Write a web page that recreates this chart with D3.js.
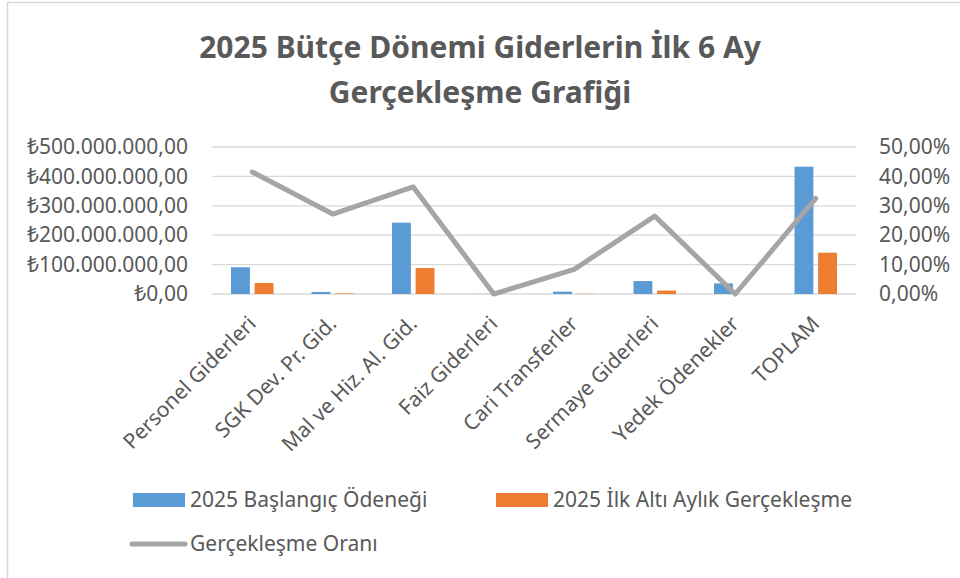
<!DOCTYPE html>
<html>
<head>
<meta charset="utf-8">
<script src="https://cdn.jsdelivr.net/npm/d3@7"></script>
<style>
  body { margin: 0; background: #fff; }
  text { font-family: "Noto Sans", "Open Sans", sans-serif; fill: #595959; }
</style>
</head>
<body>
<svg id="chart" width="960" height="578"></svg>
<script>
var categories = ['Personel Giderleri', 'SGK Dev. Pr. Gid.', 'Mal ve Hiz. Al. Gid.', 'Faiz Giderleri',
    'Cari Transferler', 'Sermaye Giderleri', 'Yedek Ödenekler', 'TOPLAM'];
var baslangic = [91e6, 7e6, 242.5e6, 0.4e6, 8e6, 44e6, 36e6, 433e6];
var gerceklesme = [37.5e6, 1.9e6, 88.4e6, 0, 0.7e6, 11.6e6, 0, 140.5e6];
var oran = [0.415, 0.272, 0.364, 0, 0.084, 0.265, 0, 0.325];
var seriesNames = ['2025 Başlangıç Ödeneği', '2025 İlk Altı Aylık Gerçekleşme', 'Gerçekleşme Oranı'];
var leftTicks = [0, 1e8, 2e8, 3e8, 4e8, 5e8];
var rightTicks = [0, 0.1, 0.2, 0.3, 0.4, 0.5];
var titleLines = ['2025 Bütçe Dönemi Giderlerin İlk 6 Ay', 'Gerçekleşme Grafiği'];

var colors = ['#5B9BD5', '#ED7D31', '#A5A5A5'];
var FS = '21px';

var tr = d3.formatLocale({decimal: ',', thousands: '.', grouping: [3], currency: ['₺', '']});
var fmtMoney = tr.format('$,.2f');
var fmtPct = tr.format('.2%');

var svg = d3.select('#chart');

// chart frame (only left and top edges show)
svg.append('rect')
    .attr('x', 7.5).attr('y', 2.5)
    .attr('width', 1000).attr('height', 1000)
    .style('fill', 'none')
    .style('stroke', '#d9d9d9')
    .style('stroke-width', 1.5);

// title
svg.selectAll('.title')
    .data(titleLines)
    .enter()
    .append('text')
    .attr('class', 'title')
    .attr('x', 480)
    .attr('y', function(d, i) {return 58 + i * 45;})
    .attr('text-anchor', 'middle')
    .style('font-size', '30px')
    .style('font-weight', 'bold')
    .text(function(d) {return d;});

// scales
var x0 = d3.scaleBand().domain(d3.range(categories.length)).range([212, 856]);
var x1 = d3.scaleBand().domain([0, 1]).range([19, 61.5]).paddingInner(0.2);
var yL = d3.scaleLinear().domain([0, 5e8]).range([294, 147]);
var yR = d3.scaleLinear().domain([0, 0.5]).range([294, 147]);

// gridlines
svg.append('g')
    .selectAll('line')
    .data(leftTicks)
    .enter()
    .append('line')
    .attr('x1', 212).attr('x2', 856)
    .attr('y1', function(d) {return yL(d);})
    .attr('y2', function(d) {return yL(d);})
    .style('stroke', '#d9d9d9')
    .style('stroke-width', 1.3);

// left axis
var axL = svg.append('g')
    .attr('transform', 'translate(188,0)')
    .call(d3.axisLeft(yL).tickValues(leftTicks).tickFormat(fmtMoney).tickSize(0).tickPadding(0));
axL.select('.domain').remove();
axL.selectAll('text').style('font-size', FS).style('fill', '#595959').style('font-family', null);

// right axis
var axR = svg.append('g')
    .attr('transform', 'translate(879,0)')
    .call(d3.axisRight(yR).tickValues(rightTicks).tickFormat(fmtPct).tickSize(0).tickPadding(0));
axR.select('.domain').remove();
axR.selectAll('text').style('font-size', FS).style('fill', '#595959').style('font-family', null);

// bars
var groups = svg.append('g')
    .selectAll('g')
    .data(categories.map(function(c, i) {return [baslangic[i], gerceklesme[i]];}))
    .enter()
    .append('g')
    .attr('transform', function(d, i) {return 'translate(' + x0(i) + ',0)';});
groups.selectAll('rect')
    .data(function(d) {return d;})
    .enter()
    .append('rect')
    .attr('x', function(d, j) {return x1(j);})
    .attr('width', x1.bandwidth())
    .attr('y', function(d) {return yL(d);})
    .attr('height', function(d) {return yL(0) - yL(d);})
    .style('fill', function(d, j) {return colors[j];});

// ratio line
var line = d3.line()
    .x(function(d, i) {return x0(i) + x0.bandwidth() / 2;})
    .y(function(d) {return yR(d);});
svg.append('path')
    .datum(oran)
    .attr('d', line)
    .style('fill', 'none')
    .style('stroke', colors[2])
    .style('stroke-width', 5)
    .style('stroke-linejoin', 'round')
    .style('stroke-linecap', 'round');

// category labels
svg.append('g')
    .selectAll('text')
    .data(categories)
    .enter()
    .append('text')
    .attr('transform', function(d, i) {
        return 'translate(' + (x0(i) + x0.bandwidth() / 2 + 5) + ',325) rotate(-45)';
    })
    .attr('text-anchor', 'end')
    .style('font-size', FS)
    .text(function(d) {return d;});

// legend
var legend = svg.append('g');
var legendPos = [[133, 500], [496, 500], [130, 544]];
seriesNames.forEach(function(name, i) {
    var p = legendPos[i];
    if(i < 2) {
        legend.append('rect')
            .attr('x', p[0]).attr('y', p[1] - 7)
            .attr('width', 52).attr('height', 14)
            .style('fill', colors[i]);
    } else {
        legend.append('line')
            .attr('x1', p[0] + 2).attr('x2', p[0] + 55)
            .attr('y1', p[1]).attr('y2', p[1])
            .style('stroke', colors[i])
            .style('stroke-width', 5)
            .style('stroke-linecap', 'round');
    }
    legend.append('text')
        .attr('x', p[0] + (i < 2 ? 57 : 60))
        .attr('y', p[1])
        .attr('dy', '0.35em')
        .style('font-size', FS)
        .text(name);
});
</script>
</body>
</html>
